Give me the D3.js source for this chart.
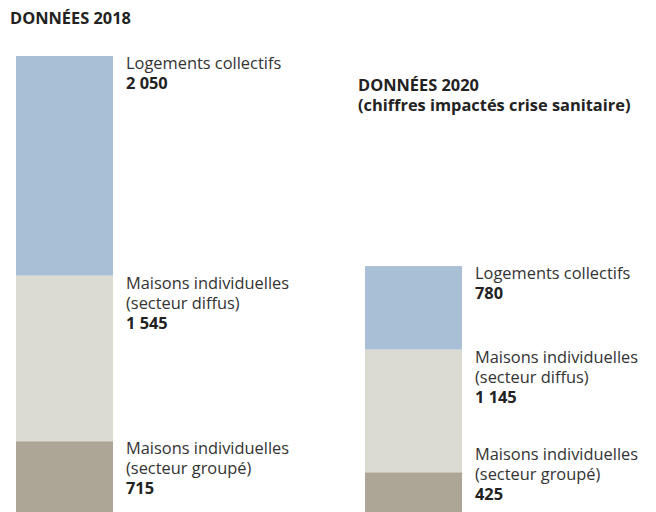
<!DOCTYPE html>
<html>
<head>
<meta charset="utf-8">
<script src="https://cdnjs.cloudflare.com/ajax/libs/d3/7.8.5/d3.min.js"></script>
<style>
  body { margin: 0; background: #fff; }
  text { font-family: "Open Sans", sans-serif; fill: #333; }
</style>
</head>
<body>
<script>
var years = ['2018', '2020'];
var categories = ['Logements collectifs', 'Maisons individuelles (secteur diffus)', 'Maisons individuelles (secteur groupé)'];
var labelLines = [['Logements collectifs'], ['Maisons individuelles', '(secteur diffus)'], ['Maisons individuelles', '(secteur groupé)']];
var values2018 = [2050, 1545, 715];
var values2020 = [780, 1145, 425];
var titles = [['DONNÉES 2018'], ['DONNÉES 2020', '(chiffres impactés crise sanitaire)']];

var colors = ['#a9bfd6', '#dcdbd1', '#ada596'];

var svg = d3.select("body").append("svg").attr("width", 656).attr("height", 512);

var x = d3.scaleOrdinal().domain(years).range([16, 365]);
var y = d3.scaleLinear().domain([0, d3.sum(values2018)]).range([518, 56]);
var barW = 97;
var fs = 16.4, lh = 20;

var fmt = d => d3.format(",")(d).replace(/,/g, " ");

[values2018, values2020].forEach(function (vals, b) {
    var yr = years[b];
    // stack from bottom: last category at bottom
    var segs = [];
    var acc = 0;
    for (var i = vals.length - 1; i >= 0; i--) {
        segs.unshift({cat: i, v: vals[i], y0: acc, y1: acc + vals[i]});
        acc += vals[i];
    }
    var g = svg.append("g");
    g.selectAll("rect")
        .data(segs)
        .enter().append("rect")
        .attr("x", x(yr))
        .attr("width", barW)
        .attr("y", d => y(d.y1))
        .attr("height", d => y(d.y0) - y(d.y1))
        .attr("fill", d => colors[d.cat]);

    var lx = x(yr) + barW + 13;
    var lab = g.selectAll("text.lab")
        .data(segs)
        .enter().append("text")
        .attr("class", "lab")
        .attr("font-size", fs)
        .attr("x", lx)
        .attr("y", d => {
            var n = labelLines[d.cat].length + 1;
            return Math.min(y(d.y1) + 13, 500 - (n - 1) * lh);
        });
    lab.each(function (d) {
        var t = d3.select(this);
        labelLines[d.cat].forEach(function (l, k) {
            t.append("tspan").attr("x", lx).attr("dy", k ? lh : 0).text(l);
        });
        t.append("tspan").attr("x", lx).attr("dy", lh)
            .attr("font-weight", "bold").style("fill", "#222").text(fmt(d.v));
    });
});

// titles
var titlePos = [[10, 24], [358, 91]];
titles.forEach(function (lines, b) {
    var t = svg.append("text")
        .attr("x", titlePos[b][0])
        .attr("y", titlePos[b][1])
        .attr("font-size", fs)
        .attr("font-weight", "bold")
        .style("fill", "#222");
    lines.forEach(function (l, k) {
        t.append("tspan").attr("x", titlePos[b][0]).attr("dy", k ? lh : 0).text(l);
    });
});
</script>
</body>
</html>
